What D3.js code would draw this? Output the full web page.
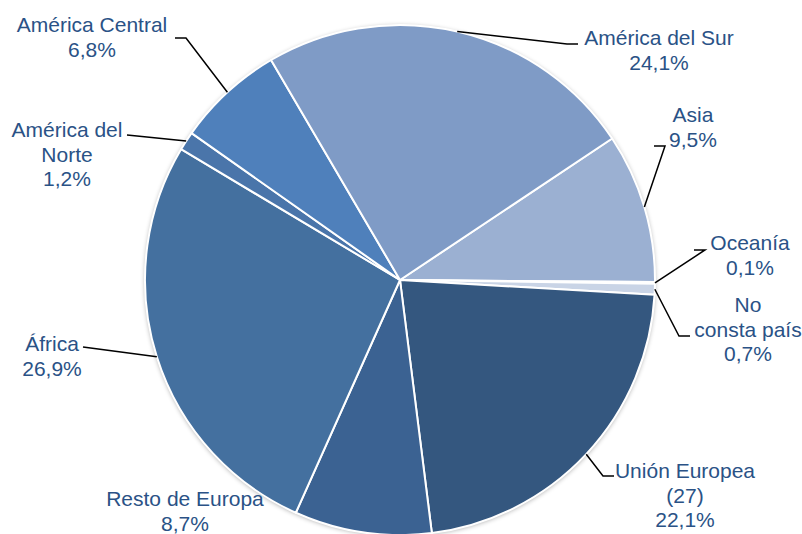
<!DOCTYPE html>
<html><head><meta charset="utf-8">
<script src="https://cdn.jsdelivr.net/npm/d3@7"></script>
<style>html,body{margin:0;padding:0;background:#fff}</style>
</head><body>
<svg id="c" width="802" height="534"></svg>
<script>
const categories = ["Asia","Oceanía","No consta país","Unión Europea (27)","Resto de Europa","África","América del Norte","América Central","América del Sur"];
const values = [9.5, 0.1, 0.7, 22.1, 8.7, 26.9, 1.2, 6.8, 24.1];
const labelLines = [["Asia","9,5%"],["Oceanía","0,1%"],["No","consta país","0,7%"],["Unión Europea","(27)","22,1%"],["Resto de Europa","8,7%"],["África","26,9%"],["América del","Norte","1,2%"],["América Central","6,8%"],["América del Sur","24,1%"]];
const colors = ["#9bb0d2","#c4cfe2","#c9d4e6","#34577f","#3b6292","#44709f","#4a75aa","#4f80bb","#7f9bc6"];

// layout of labels: text center x, first baseline y, elbow points (null = no leader)
const layout = [
  {x:693, y:122, pts:[[665,146],[654,146]]},
  {x:750, y:250, pts:[[705,250],[694,250]]},
  {x:748, y:312, pts:[[679,336],[690,336]]},
  {x:685, y:478, pts:[[603,476],[614,476]]},
  {x:185, y:506, pts:null},
  {x:52,  y:351, pts:[[83,347]]},
  {x:67,  y:137, pts:[[137,136],[127,135]]},
  {x:92,  y:32,  pts:[[186,38],[175,38]]},
  {x:659, y:45,  pts:[[567,44],[578,44]]}
];

const svg = d3.select("#c");
const cx = 400, cy = 280, R = 255;
const start = 56.3 * Math.PI / 180;

const defs = svg.append("defs");
const f = defs.append("filter").attr("id","sh").attr("x","-10%").attr("y","-10%").attr("width","120%").attr("height","120%");
f.append("feGaussianBlur").attr("in","SourceAlpha").attr("stdDeviation",2.5);
f.append("feOffset").attr("dx",0).attr("dy",1).attr("result","b");
f.append("feComponentTransfer").append("feFuncA").attr("type","linear").attr("slope",0.35);
const m = f.append("feMerge"); m.append("feMergeNode"); m.append("feMergeNode").attr("in","SourceGraphic");

const data = categories.map((c,i)=>({c, v:values[i], i}));
const pie = d3.pie().sort(null).value(d=>d.v).startAngle(start).endAngle(start + 2*Math.PI);
const arcs = pie(data);
const arc = d3.arc().innerRadius(0).outerRadius(R);

const g = svg.append("g").attr("transform",`translate(${cx},${cy})`);
g.append("circle").attr("r",R).attr("fill","#fff").attr("filter","url(#sh)");
g.selectAll("path.s").data(arcs).join("path").attr("class","s")
  .attr("d",arc).attr("fill",d=>colors[d.data.i])
  .attr("stroke","#fff").attr("stroke-width",2).attr("stroke-linejoin","round");

// leader lines
arcs.forEach((d,i)=>{
  const L = layout[i];
  if(!L.pts) return;
  const a = (d.startAngle + d.endAngle)/2;
  const p0 = [cx + R*Math.sin(a), cy - R*Math.cos(a)];
  const pts = [p0, ...L.pts];
  svg.append("path").attr("d", d3.line()(pts)).attr("fill","none")
    .attr("stroke","#000").attr("stroke-width",1.5);
});

// labels
arcs.forEach((d,i)=>{
  const L = layout[i];
  const t = svg.append("text").attr("text-anchor","middle")
    .attr("font-family","Liberation Sans, Arial, sans-serif").attr("font-size",21)
    .attr("fill","#2a5286");
  labelLines[i].forEach((s,k)=>{
    t.append("tspan").attr("x",L.x).attr("y",L.y + k*24.5).text(s);
  });
});
</script>
</body></html>
